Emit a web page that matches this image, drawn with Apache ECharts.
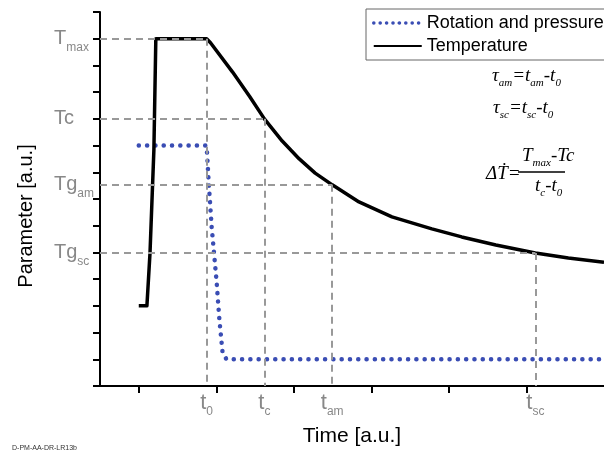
<!DOCTYPE html>
<html>
<head>
<meta charset="utf-8">
<script src="https://cdn.jsdelivr.net/npm/echarts@6/dist/echarts.min.js"></script>
<style>
  html, body { margin: 0; padding: 0; background: #fff; }
  #chart-container { width: 604px; height: 453px; }
</style>
</head>
<body>
<div id="chart-container"></div>
<script>
// curve points (time and parameter in arbitrary units)
var tempX = [1.0, 1.21, 1.29, 1.39, 1.44, 2.75, 2.85, 3.42, 3.86, 4.24, 4.70, 5.14, 5.55, 5.99, 6.68, 7.53, 8.56, 9.33, 10.21, 11.23, 12.08, 13.0];
var tempY = [3.0, 3.0, 4.98, 8.84, 13.0, 13.0, 12.85, 11.75, 10.84, 10.0, 9.17, 8.50, 7.97, 7.53, 6.89, 6.33, 5.88, 5.58, 5.28, 4.98, 4.79, 4.63];
var rotX = [1.0, 2.75, 2.80, 2.88, 3.01, 3.08, 3.16, 3.26, 13.0];
var rotY = [9.0, 9.0, 7.71, 5.95, 3.86, 2.47, 1.27, 1.0, 1.0];

// named times on the x axis and levels on the y axis
var timeNames = ['0', 'c', 'am', 'sc'];
var timeVals = [2.75, 4.24, 5.99, 11.23];
var levelNames = ['{b|T}{s|max}', '{b|Tc}', '{b|Tg}{s|am}', '{b|Tg}{s|sc}'];
var levelVals = [13, 10, 7.53, 4.98];
var xTicks = [1, 3, 5, 7, 9, 11];

var dom = document.getElementById('chart-container');
var myChart = echarts.init(dom, null, { renderer: 'canvas' });

function pairs(xs, ys) {
    return xs.map(function (x, i) { return [x, ys[i]]; });
}

function nearest(vals, v) {
    var best = 0;
    for (var i = 1; i < vals.length; i++) {
        if (Math.abs(vals[i] - v) < Math.abs(vals[best] - v)) best = i;
    }
    return best;
}

// dashed guides: level -> time, then time -> axis
var guides = [];
for (var i = 0; i < timeVals.length; i++) {
    guides.push([{ coord: [0, levelVals[i]] }, { coord: [timeVals[i], levelVals[i]] }]);
    guides.push([{ coord: [timeVals[i], levelVals[i]] }, { coord: [timeVals[i], 0] }]);
}

var font = 'Liberation Sans';
var mathFont = 'Liberation Serif';
var mathRich = {
    v: { fontFamily: mathFont, fontStyle: 'italic', fontSize: 19, lineHeight: 26, fill: '#000' },
    s: { fontFamily: mathFont, fontStyle: 'italic', fontSize: 11, lineHeight: 11, verticalAlign: 'bottom', fill: '#000' }
};

var option = {
    animation: false,
    title: {
        text: 'D-PM-AA-DR-LR13b',
        left: 12,
        top: 445,
        padding: 0,
        textStyle: { fontSize: 7, fontWeight: 'normal', color: '#333', fontFamily: font }
    },
    legend: {
        orient: 'vertical',
        left: 366,
        top: 9,
        padding: [5, 8, 5, 6],
        itemWidth: 48,
        itemHeight: 1,
        itemGap: 5,
        borderColor: '#666',
        borderWidth: 1,
        backgroundColor: '#fff',
        data: [
            { name: 'Rotation and pressure', lineStyle: { width: 3.5, type: [0.1, 6.3] } },
            'Temperature'
        ],
        textStyle: { fontSize: 18, color: '#000', fontFamily: font }
    },
    grid: {
        left: 100,
        right: 0,
        top: 12,
        bottom: 67,
        outerBoundsMode: 'none'
    },
    xAxis: {
        type: 'value',
        min: 0,
        max: 13,
        name: 'Time [a.u.]',
        nameLocation: 'middle',
        nameGap: 40,
        nameTextStyle: { fontSize: 21, color: '#000', fontFamily: font },
        axisLine: { lineStyle: { color: '#000', width: 2 } },
        axisTick: { show: true, length: 7, customValues: xTicks, lineStyle: { color: '#000', width: 2 } },
        axisLabel: {
            customValues: timeVals,
            margin: 2,
            formatter: function (v) {
                return '{b|t}{s|' + timeNames[nearest(timeVals, v)] + '}';
            },
            rich: {
                b: { fontSize: 22, lineHeight: 30, color: '#888', fontFamily: font },
                s: { fontSize: 12, lineHeight: 12, verticalAlign: 'bottom', color: '#888', fontFamily: font }
            }
        },
        splitLine: { show: false }
    },
    yAxis: {
        type: 'value',
        min: 0,
        max: 14,
        interval: 1,
        name: 'Parameter [a.u.]',
        nameLocation: 'middle',
        nameGap: 64,
        nameTextStyle: { fontSize: 20, color: '#000', fontFamily: font, padding: [0, 34, 0, 0] },
        axisLine: { show: true, lineStyle: { color: '#000', width: 2 } },
        axisTick: { show: true, length: 7, lineStyle: { color: '#000', width: 2 } },
        axisLabel: {
            customValues: levelVals,
            align: 'left',
            margin: 46,
            formatter: function (v) {
                return levelNames[nearest(levelVals, v)];
            },
            rich: {
                b: { fontSize: 20, lineHeight: 30, color: '#888', fontFamily: font },
                s: { fontSize: 12, lineHeight: 12, verticalAlign: 'bottom', color: '#888', fontFamily: font }
            }
        },
        splitLine: { show: false }
    },
    series: [
        {
            name: 'guides',
            type: 'line',
            data: [],
            z: 1,
            markLine: {
                silent: true,
                symbol: 'none',
                label: { show: false },
                lineStyle: { color: '#999', type: [7, 5], width: 2 },
                data: guides
            }
        },
        {
            name: 'Rotation and pressure',
            type: 'line',
            symbol: 'none',
            z: 3,
            data: pairs(rotX, rotY),
            itemStyle: { color: '#3a4db4' },
            lineStyle: { color: '#3a4db4', width: 4.5, type: [0.1, 8.2], cap: 'round' }
        },
        {
            name: 'Temperature',
            type: 'line',
            symbol: 'none',
            z: 4,
            data: pairs(tempX, tempY),
            itemStyle: { color: '#000' },
            lineStyle: { color: '#000', width: 3.5, join: 'round' }
        }
    ],
    graphic: [
        {
            type: 'text', left: 492, top: 66,
            style: { text: '{v|τ}{s|am}{v|=t}{s|am}{v|-t}{s|0}', rich: mathRich }
        },
        {
            type: 'text', left: 493, top: 98,
            style: { text: '{v|τ}{s|sc}{v|=t}{s|sc}{v|-t}{s|0}', rich: mathRich }
        },
        {
            type: 'text', left: 486, top: 164,
            style: { text: '{v|ΔṪ=}', rich: mathRich }
        },
        {
            type: 'text', left: 522, top: 146,
            style: { text: '{v|T}{s|max}{v|-Tc}', rich: mathRich }
        },
        {
            type: 'line',
            shape: { x1: 518, y1: 172, x2: 565, y2: 172 },
            style: { stroke: '#000', lineWidth: 1.5 }
        },
        {
            type: 'text', left: 535, top: 176,
            style: { text: '{v|t}{s|c}{v|-t}{s|0}', rich: mathRich }
        }
    ]
};

if (option && typeof option === 'object') {
    myChart.setOption(option);
}

window.addEventListener('resize', myChart.resize);
</script>
</body>
</html>
